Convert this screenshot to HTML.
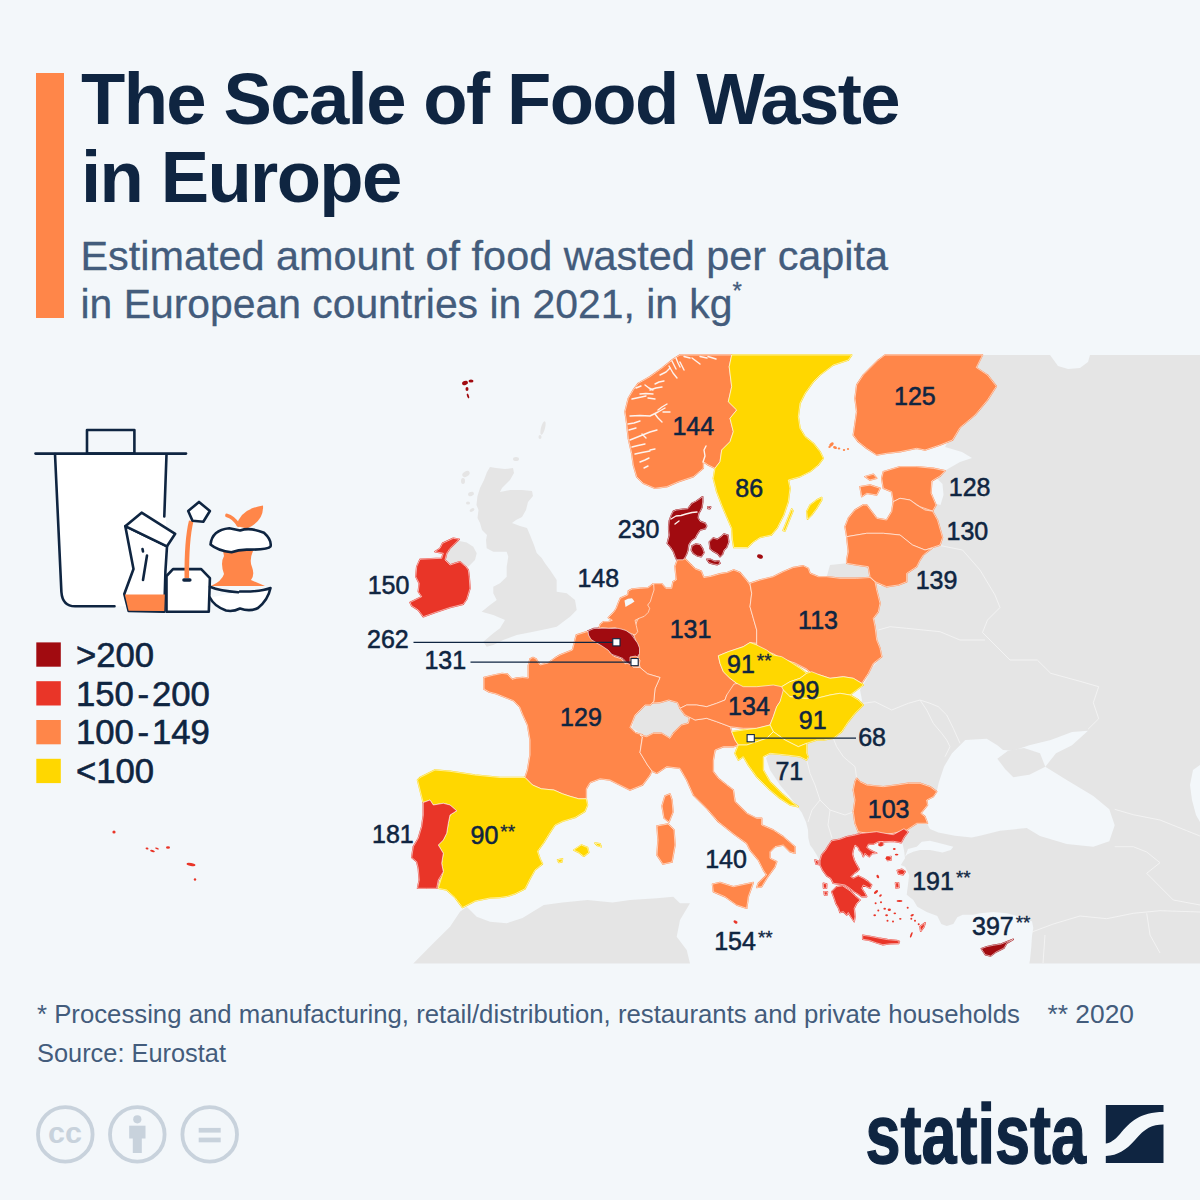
<!DOCTYPE html>
<html><head><meta charset="utf-8"><title>The Scale of Food Waste in Europe</title>
<style>
html,body{margin:0;padding:0;background:#f3f7fa;}
body{width:1200px;height:1200px;overflow:hidden;position:relative;font-family:"Liberation Sans",sans-serif;}
svg{position:absolute;left:0;top:0;display:block;}
svg text{font-family:"Liberation Sans",sans-serif;}
</style></head>
<body>
<svg width="1200" height="1200" viewBox="0 0 1200 1200">
<rect width="1200" height="1200" fill="#f3f7fa"/>
<rect x="36" y="73" width="28" height="245" fill="#ff8649"/>
<text x="81" y="124" font-size="72.5" fill="#0f2541" font-weight="bold" letter-spacing="-1.63">The Scale of Food Waste</text>
<text x="81" y="202" font-size="72.5" fill="#0f2541" font-weight="bold" letter-spacing="-1.63">in Europe</text>
<text x="80.5" y="270" font-size="41.4" fill="#435c7c" font-weight="normal" stroke="#435c7c" stroke-width="0.3">Estimated amount of food wasted per capita</text>
<text x="80.5" y="317.5" font-size="41.4" fill="#435c7c" font-weight="normal" stroke="#435c7c" stroke-width="0.3"><tspan textLength="652" lengthAdjust="spacingAndGlyphs">in European countries in 2021, in kg</tspan><tspan dy="-19" font-size="24">*</tspan></text>
<g id="map">
<g fill="#e5e5e5">
<path d="M975.0,355.0 L1200.0,355.0 L1200.0,963.5 L1029.3,963.5 L1030.0,960.0 L1031.3,946.7 L1032.0,936.0 L1033.3,928.0 L1032.0,921.3 L1026.7,920.0 L1017.3,916.0 L1006.7,913.3 L993.3,912.0 L980.0,913.3 L973.3,914.7 L962.7,914.7 L957.3,917.3 L953.3,924.0 L946.7,926.0 L941.3,924.0 L937.3,916.0 L926.7,912.0 L917.3,906.7 L913.3,900.0 L906.7,894.7 L909.2,875.0 L905.0,866.7 L900.8,865.0 L905.0,858.3 L904.0,850.0 L902.5,843.3 L904.2,837.5 L908.3,833.3 L908.3,829.5 L893.3,835.5 L886.7,834.3 L877.3,832.0 L866.7,833.2 L853.3,834.5 L840.0,838.5 L830.7,842.5 L824.0,854.0 L820.0,861.3 L816.7,855.0 L813.0,849.0 L810.0,845.0 L808.3,838.0 L808.0,830.0 L806.0,822.0 L802.0,813.0 L797.0,806.0 L790.0,797.0 L780.0,785.0 L770.0,770.0 L766.0,758.0 L775.0,748.0 L790.0,746.0 L800.0,747.0 L810.0,742.0 L825.0,738.0 L840.0,732.0 L850.0,718.0 L860.0,706.0 L862.0,700.0 L860.0,690.0 L866.0,680.0 L872.0,668.0 L880.0,658.0 L880.0,648.0 L876.0,635.0 L874.0,620.0 L879.0,608.0 L878.0,595.0 L874.0,582.0 L880.0,586.0 L900.0,584.0 L905.0,575.0 L915.0,565.0 L925.0,553.0 L938.0,546.0 L940.0,535.0 L936.0,520.0 L932.0,512.0 L935.0,505.0 L930.0,495.0 L930.0,482.0 L940.0,476.0 L946.0,470.0 L960.0,462.0 L972.0,458.0 L962.0,452.0 L945.0,447.0 L950.0,438.0 L958.0,425.0 L972.0,410.0 L985.0,395.0 L985.0,378.0 L975.0,368.0Z"/>
<path d="M490.0,467.0 L496.0,468.0 L505.0,469.0 L513.0,468.0 L514.0,473.0 L510.0,480.0 L502.0,488.0 L500.0,492.0 L510.0,490.0 L522.0,490.0 L532.0,491.0 L533.0,496.0 L528.0,502.0 L526.0,510.0 L522.0,517.0 L516.0,520.0 L512.0,523.0 L520.0,526.0 L527.0,528.0 L530.0,535.0 L534.0,545.0 L536.7,553.0 L541.7,558.0 L545.0,563.3 L550.0,570.0 L556.7,580.0 L556.7,591.7 L566.7,593.3 L575.0,600.0 L576.7,610.0 L570.0,616.7 L563.3,621.7 L556.7,626.7 L550.0,628.3 L533.3,631.7 L516.7,635.0 L503.3,640.0 L493.3,645.0 L486.7,646.7 L483.3,641.7 L493.3,633.3 L500.0,628.3 L505.0,620.0 L493.3,615.0 L481.7,611.7 L490.0,605.0 L496.7,600.0 L493.3,593.3 L493.3,586.7 L500.0,583.3 L506.7,576.7 L506.7,566.7 L508.3,556.7 L506.7,551.7 L493.3,551.7 L486.7,548.3 L486.0,540.0 L487.0,535.0 L482.0,530.0 L480.0,523.0 L477.5,518.0 L478.5,510.0 L476.5,505.0 L477.5,496.0 L480.0,488.0 L484.0,480.0 L487.0,472.0Z"/>
<path d="M450.0,548.3 L458.3,540.8 L466.7,542.5 L473.3,546.7 L476.7,553.3 L475.0,560.0 L468.3,566.7 L460.0,561.7 L450.0,565.0 L445.0,560.0Z"/>
<path d="M413.3,963.5 L433.3,943.3 L450.0,926.7 L460.0,911.7 L466.7,906.7 L476.7,916.7 L490.0,921.7 L506.7,923.3 L522.5,918.0 L543.8,905.0 L562.5,902.5 L587.5,900.0 L612.5,902.5 L630.0,900.0 L656.7,898.3 L673.3,896.7 L680.0,903.3 L690.0,903.3 L680.0,920.0 L676.7,936.7 L686.7,950.0 L690.0,963.5Z"/>
<path d="M632.0,728.0 L635.0,715.0 L640.0,706.7 L650.0,703.3 L660.0,702.5 L668.8,700.0 L677.5,702.5 L685.0,707.0 L690.0,716.7 L688.3,723.3 L681.7,725.0 L673.3,733.3 L670.0,738.3 L661.7,733.3 L653.3,733.3 L646.7,736.7 L640.0,733.3Z"/>
<path d="M826.7,576.7 L830.0,565.0 L846.7,563.3 L856.7,565.0 L868.3,566.7 L870.0,577.5 L856.7,578.3 L840.0,578.3Z"/>
<ellipse cx="466" cy="474" rx="4" ry="2.5" transform="rotate(-30 466 474)"/>
<ellipse cx="463" cy="481" rx="2" ry="3" transform="rotate(0 463 481)"/>
<ellipse cx="471" cy="494" rx="3" ry="2" transform="rotate(-20 471 494)"/>
<ellipse cx="468" cy="503" rx="2" ry="1.5" transform="rotate(0 468 503)"/>
<ellipse cx="472" cy="510" rx="2.5" ry="1.5" transform="rotate(-30 472 510)"/>
<ellipse cx="516" cy="459" rx="3" ry="2" transform="rotate(0 516 459)"/>
<ellipse cx="543" cy="428" rx="2" ry="7" transform="rotate(15 543 428)"/>
<ellipse cx="540" cy="437" rx="1.5" ry="2" transform="rotate(0 540 437)"/>
<ellipse cx="480" cy="505" rx="2" ry="2" transform="rotate(0 480 505)"/>
</g>
<g fill="#f3f7fa">
<path d="M938.7,782.7 L944.0,766.7 L952.0,753.3 L965.3,740.0 L986.7,738.7 L997.3,745.3 L1003.0,750.0 L1013.3,750.7 L1029.3,745.3 L1050.7,740.0 L1072.0,732.0 L1088.0,730.7 L1072.0,745.3 L1056.0,753.3 L1045.3,766.7 L1066.7,780.0 L1093.3,796.0 L1109.3,809.3 L1114.7,825.3 L1109.3,841.3 L1093.3,846.7 L1066.7,844.0 L1040.0,836.0 L1026.7,828.0 L1000.0,830.7 L980.0,835.8 L971.7,837.5 L955.0,835.8 L938.3,832.5 L930.0,829.0 L927.5,824.2 L925.0,816.7 L920.8,813.3 L927.5,805.0 L926.7,800.0 L933.3,796.7 L936.7,791.7Z"/>
<path d="M905.0,856.7 L907.5,854.2 L913.3,851.7 L920.0,850.0 L930.0,850.0 L942.5,852.5 L950.8,850.0 L953.3,846.7 L940.0,843.3 L930.0,840.8 L921.7,841.7 L916.7,846.7 L908.0,849.0Z"/>
<path d="M1050.0,355.0 L1090.0,355.0 L1088.0,362.0 L1080.0,368.0 L1068.0,369.0 L1058.0,366.0Z"/>
<path d="M1200.0,765.0 L1193.0,770.0 L1190.0,785.0 L1192.0,800.0 L1196.0,815.0 L1200.0,822.0Z"/>
<path d="M930.0,480.0 L937.0,478.5 L942.5,484.0 L943.5,495.0 L940.5,505.0 L935.0,503.5 L931.5,495.0Z"/>
</g>
<path d="M997.3,758.7 L1008.0,750.7 L1024.0,748.0 L1040.0,753.3 L1045.3,766.7 L1029.3,774.7 L1013.3,777.3 L1005.3,769.3Z" fill="#e5e5e5"/>
<g fill="none" stroke="#f4f4f4" stroke-width="0.9" stroke-linejoin="round">
<path d="M937.5,545.0 L962.5,550.0 L980.0,570.0 L995.0,595.0 L1000.0,607.5 L987.5,620.0 L982.5,632.5 L995.0,645.0 L1010.0,660.0 L1037.3,660.0 L1050.7,673.3 L1080.0,681.3 L1098.7,686.7 L1093.3,702.7 L1098.7,718.7 L1088.0,729.3"/>
<path d="M878.3,630.0 L890.0,626.7 L906.7,628.3 L923.3,630.0 L940.0,631.7 L960.0,640.0 L985.0,640.0"/>
<path d="M863.3,703.3 L875.0,701.7 L891.7,710.0 L908.3,703.3 L920.0,700.0 L930.0,703.3 L938.3,706.7 L946.7,715.0 L953.3,728.3 L960.0,743.3"/>
<path d="M920.0,700.0 L926.7,710.0 L933.3,723.3 L941.7,733.3 L946.7,740.0 L950.0,746.7 L945.0,756.7"/>
<path d="M833.3,738.3 L836.7,746.7 L843.3,756.7 L855.0,766.7 L856.7,778.3"/>
<path d="M806.7,760.0 L810.0,773.3 L815.0,785.0 L820.0,800.0 L830.0,810.0 L845.0,815.0 L853.0,812.0"/>
<path d="M820.0,800.0 L812.0,810.0 L808.0,822.0"/>
<path d="M830.0,810.0 L828.0,825.0 L832.0,838.0"/>
<path d="M1114.7,809.3 L1133.3,814.7 L1160.0,820.0 L1186.7,830.7 L1200.0,836.0"/>
<path d="M1114.7,846.7 L1133.3,846.7 L1146.7,852.0 L1160.0,862.7 L1146.7,873.3 L1160.0,886.7 L1173.3,900.0 L1200.0,905.0"/>
<path d="M1032.0,932.0 L1053.3,924.0 L1080.0,916.0 L1106.7,918.7 L1133.3,913.3 L1160.0,910.7 L1200.0,912.0"/>
<path d="M1146.7,913.3 L1150.0,935.0 L1160.0,953.0"/>
<path d="M1045.0,935.0 L1043.0,963.0"/>
</g>
<g stroke-width="1.5" stroke-linejoin="round">
<path d="M673.3,359.2 L680.0,355.0 L731.7,355.0 L729.2,366.7 L731.7,386.7 L728.3,401.7 L736.7,410.0 L730.0,418.3 L733.3,431.7 L730.0,441.7 L721.7,450.0 L720.0,461.7 L715.0,468.3 L708.3,465.0 L703.3,461.7 L703.3,468.3 L693.3,476.7 L678.3,481.7 L666.7,486.7 L655.0,488.3 L643.3,483.3 L636.7,476.7 L633.3,465.0 L631.7,453.3 L628.3,438.3 L626.7,423.3 L625.0,411.7 L628.3,398.3 L633.3,390.0 L638.3,383.3 L650.0,376.7 L661.7,368.3Z" fill="#ff8649" stroke="#ff8649"/>
<path d="M731.7,355.0 L851.7,355.0 L848.3,360.0 L833.3,365.0 L820.0,375.0 L813.3,381.7 L805.0,393.3 L800.0,403.3 L798.3,416.7 L800.0,428.3 L805.0,436.7 L813.3,443.3 L820.0,451.7 L823.3,458.3 L818.3,465.0 L810.0,471.7 L800.0,476.7 L788.3,480.0 L790.0,488.3 L788.3,501.7 L783.8,515.0 L777.5,527.5 L771.3,535.0 L760.0,537.5 L752.5,542.5 L747.5,547.5 L733.8,547.5 L732.5,540.0 L731.7,528.3 L726.7,516.7 L721.7,505.0 L716.7,491.7 L713.3,478.3 L715.0,468.3 L720.0,461.7 L721.7,450.0 L730.0,441.7 L733.3,431.7 L730.0,418.3 L736.7,410.0 L728.3,401.7 L731.7,386.7 L729.2,366.7Z" fill="#ffd700" stroke="#ffd700"/>
<path d="M821.7,497.5 L816.7,500.0 L810.0,505.0 L806.7,511.7 L807.5,519.2 L811.7,515.0 L816.7,508.3 L821.7,500.0Z" fill="#ffd700" stroke="#ffd700"/>
<path d="M791.7,509.0 L793.0,511.0 L785.0,531.0 L783.0,530.5Z" fill="#ffd700" stroke="#ffd700"/>
<path d="M885.0,355.0 L982.5,355.0 L976.3,367.5 L987.5,375.0 L996.3,386.3 L987.5,400.0 L975.0,415.0 L960.0,427.5 L952.5,440.0 L940.0,445.0 L925.0,450.0 L916.7,448.3 L900.0,451.7 L886.7,453.3 L876.7,455.0 L866.7,448.3 L858.3,441.7 L853.3,435.0 L855.0,423.3 L856.7,411.7 L855.0,398.3 L856.7,385.0 L863.3,375.0 L870.0,368.3 L878.3,360.0Z" fill="#ff8649" stroke="#ff8649"/>
<path d="M883.3,471.7 L900.0,466.7 L916.7,466.7 L933.3,468.3 L945.0,470.8 L940.0,476.0 L931.7,481.0 L931.0,493.3 L936.0,505.0 L932.5,511.0 L920.0,506.7 L910.0,500.0 L900.0,498.3 L893.3,501.7 L891.7,491.7 L883.3,488.3 L881.7,478.3Z" fill="#ff8649" stroke="#ff8649"/>
<path d="M860.0,486.7 L870.0,485.0 L880.0,488.3 L876.7,495.0 L866.7,493.3 L861.7,496.7Z" fill="#ff8649" stroke="#ff8649"/>
<path d="M865.0,476.7 L873.3,474.2 L876.7,478.3 L870.0,480.0Z" fill="#ff8649" stroke="#ff8649"/>
<path d="M863.3,505.0 L866.7,505.0 L876.7,518.3 L886.7,520.0 L891.7,511.7 L893.3,501.7 L900.0,498.3 L910.0,500.0 L916.7,505.0 L925.0,510.0 L932.5,511.2 L937.5,520.0 L942.5,537.5 L940.0,545.0 L925.0,550.0 L912.5,545.0 L900.0,535.0 L883.3,533.3 L866.7,533.3 L846.7,536.7 L845.0,526.7 L848.3,518.3 L855.0,510.0Z" fill="#ff8649" stroke="#ff8649"/>
<path d="M846.7,536.7 L866.7,533.3 L883.3,533.3 L900.0,535.0 L912.5,545.0 L925.0,550.0 L931.7,548.3 L923.3,555.0 L920.0,560.0 L916.7,566.7 L906.7,573.3 L906.7,581.7 L898.3,585.0 L886.7,586.7 L875.0,581.7 L870.0,576.7 L868.3,566.7 L856.7,565.0 L846.7,563.3 L846.7,560.0 L848.3,551.7Z" fill="#ff8649" stroke="#ff8649"/>
<path d="M653.7,583.7 L661.7,583.7 L665.7,588.3 L671.7,588.3 L673.0,581.7 L676.3,580.0 L675.0,566.3 L677.5,559.4 L685.0,558.8 L691.3,565.0 L695.0,568.8 L701.3,571.3 L703.8,577.5 L711.3,576.3 L720.0,573.8 L727.5,572.5 L733.8,570.0 L740.0,572.5 L746.3,580.0 L750.0,585.0 L751.7,593.3 L750.0,606.7 L753.3,618.3 L756.7,630.0 L756.7,643.3 L750.0,642.5 L743.3,646.7 L728.3,651.7 L718.3,655.8 L720.0,663.3 L723.3,671.7 L730.0,678.3 L736.7,683.3 L736.7,688.3 L726.7,695.0 L725.0,700.0 L716.7,703.3 L706.7,706.7 L696.7,705.0 L686.7,705.0 L680.0,708.3 L677.5,702.5 L668.8,700.0 L660.0,702.5 L652.5,703.0 L653.8,701.3 L655.0,688.8 L660.0,677.5 L647.5,673.8 L640.0,667.5 L638.8,660.0 L638.8,650.0 L633.8,635.0 L635.0,626.3 L637.5,620.0 L645.0,610.0 L647.5,605.0 L650.0,597.5 L652.3,590.0Z" fill="#ff8649" stroke="#ff8649"/>
<path d="M750.0,583.3 L760.0,580.0 L773.3,576.7 L783.3,571.7 L793.3,567.5 L803.3,565.8 L808.3,568.3 L810.0,573.3 L818.3,576.7 L826.7,576.7 L840.0,578.3 L856.7,578.3 L870.0,577.5 L875.0,581.7 L876.7,590.0 L880.0,603.3 L878.3,611.7 L873.3,618.3 L875.0,626.7 L876.7,640.0 L880.0,648.3 L881.7,656.7 L873.3,663.3 L868.3,673.3 L861.7,683.3 L853.3,678.3 L843.3,676.7 L830.0,678.3 L820.0,675.0 L811.7,673.5 L806.7,669.0 L795.0,663.0 L781.7,658.7 L773.3,653.7 L763.3,650.3 L756.7,645.3 L756.7,630.0 L753.3,618.3 L750.0,606.7 L751.7,593.3Z" fill="#ff8649" stroke="#ff8649"/>
<path d="M597.0,629.7 L599.0,627.7 L600.3,624.3 L603.7,621.7 L608.3,621.7 L612.3,620.3 L608.3,617.7 L611.0,615.0 L613.7,612.3 L616.3,608.3 L618.3,603.0 L620.3,598.3 L623.0,597.0 L627.7,595.0 L628.3,591.0 L632.3,589.0 L640.3,588.3 L648.3,587.7 L651.7,585.0 L653.7,583.7 L654.0,590.0 L652.3,595.0 L650.3,601.7 L647.7,605.0 L649.7,608.3 L648.3,612.3 L644.3,616.3 L639.0,618.3 L635.0,620.3 L636.3,625.7 L637.7,631.7 L635.0,635.0 L629.7,633.0 L625.7,631.0 L621.7,630.3 L615.0,627.7 L608.3,628.3 L601.7,627.7Z" fill="#ff8649" stroke="#ff8649"/>
<path d="M588.1,631.3 L588.8,635.0 L593.8,640.0 L601.3,643.8 L607.5,647.5 L610.0,652.5 L613.8,656.3 L621.3,658.8 L625.0,663.8 L630.0,662.5 L633.0,667.0 L640.0,667.5 L647.5,673.8 L660.0,677.5 L655.0,688.8 L653.8,701.3 L650.0,705.0 L645.0,705.0 L635.0,715.0 L630.0,727.5 L635.0,732.5 L642.5,735.0 L640.0,752.5 L647.5,765.0 L652.0,771.0 L650.0,775.0 L642.5,785.0 L630.0,790.0 L617.5,783.8 L610.0,780.0 L600.0,778.8 L590.0,782.5 L586.3,788.8 L586.3,798.8 L578.8,798.8 L570.0,796.3 L562.5,793.8 L553.8,790.0 L541.3,788.8 L532.5,785.0 L525.0,777.5 L527.5,770.0 L530.0,755.0 L530.0,740.0 L527.5,725.0 L522.5,714.0 L519.6,706.7 L516.7,703.8 L513.8,700.8 L505.0,697.3 L496.3,693.8 L489.3,692.0 L484.0,689.0 L484.0,677.5 L493.3,675.2 L502.0,673.4 L507.3,674.0 L512.0,679.3 L516.7,678.1 L522.5,677.5 L528.3,678.1 L528.3,665.8 L530.0,659.0 L533.0,657.5 L536.0,659.0 L540.0,665.0 L548.0,663.0 L555.0,658.0 L560.0,655.0 L572.5,650.0 L575.0,640.0 L576.3,635.0Z" fill="#ff8649" stroke="#ff8649"/>
<path d="M665.0,796.0 L670.0,794.0 L672.0,800.0 L673.0,812.0 L669.0,822.0 L664.0,818.0 L662.0,806.0Z" fill="#ff8649" stroke="#ff8649"/>
<path d="M640.0,735.0 L646.7,736.7 L653.3,733.3 L661.7,733.3 L670.0,738.3 L673.3,733.3 L681.7,725.0 L688.3,723.3 L690.0,716.7 L695.0,720.0 L706.7,718.3 L716.7,721.7 L730.0,726.7 L731.7,731.7 L735.0,740.0 L738.3,745.0 L733.3,746.7 L723.3,746.7 L715.0,750.0 L713.3,760.0 L713.3,771.7 L718.3,778.3 L726.7,785.0 L733.3,790.0 L735.0,801.7 L746.7,813.3 L756.7,818.3 L761.7,818.3 L761.7,825.0 L773.3,830.0 L783.3,836.7 L795.0,846.7 L795.0,853.3 L790.0,851.7 L783.3,845.0 L775.0,846.7 L770.0,851.7 L770.0,858.3 L776.7,861.7 L775.0,866.7 L766.7,878.3 L761.7,886.7 L756.7,887.5 L758.3,883.3 L766.7,875.0 L763.3,870.0 L758.3,860.0 L750.0,850.0 L746.7,843.3 L735.0,835.0 L718.3,821.7 L706.7,808.3 L693.3,795.0 L686.7,780.0 L680.0,768.3 L666.7,766.7 L656.7,773.3 L652.0,771.0 L647.5,765.0 L640.0,752.5 L642.5,737.0Z" fill="#ff8649" stroke="#ff8649"/>
<path d="M657.0,826.0 L668.0,824.0 L674.0,830.0 L675.0,845.0 L672.0,862.0 L663.0,864.0 L657.0,855.0 L658.0,840.0Z" fill="#ff8649" stroke="#ff8649"/>
<path d="M712.5,884.2 L720.0,882.5 L733.3,886.7 L753.3,882.5 L748.3,896.7 L746.7,908.3 L736.7,905.0 L725.0,896.7 L713.3,891.7Z" fill="#ff8649" stroke="#ff8649"/>
<path d="M726.7,695.0 L734.0,684.0 L743.3,682.5 L756.7,682.5 L773.3,681.0 L781.7,683.0 L786.0,688.0 L780.0,701.7 L776.7,706.7 L773.3,716.7 L770.0,725.0 L756.7,728.3 L743.3,728.3 L730.0,726.7 L716.7,721.7 L706.7,718.3 L695.0,720.0 L685.0,715.0 L680.0,708.3 L686.7,705.0 L696.7,705.0 L706.7,706.7 L716.7,703.3 L725.0,700.0Z" fill="#ff8649" stroke="#ff8649"/>
<path d="M856.7,778.3 L860.0,781.7 L866.7,785.0 L883.3,786.7 L896.7,785.0 L908.3,783.3 L920.0,783.3 L930.0,786.7 L936.7,791.7 L933.3,796.7 L926.7,800.0 L927.5,805.0 L920.8,813.3 L925.0,816.7 L927.5,823.3 L916.7,823.3 L906.7,830.0 L893.3,833.3 L876.7,835.0 L866.7,833.3 L858.3,831.7 L855.0,823.3 L853.3,811.7 L855.0,800.0 L853.3,790.0 L855.0,781.7Z" fill="#ff8649" stroke="#ff8649"/>
<path d="M718.3,655.8 L728.3,651.7 L743.3,646.7 L750.0,642.5 L756.7,645.0 L766.7,650.0 L773.3,655.0 L781.7,656.7 L790.0,661.7 L800.0,668.3 L806.7,673.3 L800.0,678.3 L790.0,681.7 L781.7,686.7 L773.3,685.0 L756.7,686.7 L743.3,686.7 L736.7,683.3 L730.0,678.3 L723.3,671.7 L720.0,663.3Z" fill="#ffd700" stroke="#ffd700"/>
<path d="M806.7,673.3 L811.7,671.7 L820.0,675.0 L830.0,678.3 L843.3,676.7 L853.3,678.3 L861.7,683.3 L863.3,685.0 L856.7,690.0 L850.0,695.0 L840.0,693.3 L830.0,695.0 L816.7,698.3 L803.3,698.3 L790.0,696.7 L783.3,690.0 L781.7,686.7 L790.0,681.7 L800.0,678.3Z" fill="#ffd700" stroke="#ffd700"/>
<path d="M783.3,690.0 L790.0,696.7 L803.3,698.3 L816.7,698.3 L830.0,695.0 L840.0,693.3 L850.0,695.0 L858.3,700.0 L863.3,705.0 L855.0,713.3 L848.3,721.7 L841.7,731.7 L833.3,738.3 L823.3,740.0 L816.7,740.0 L806.7,743.3 L798.3,746.7 L785.0,740.0 L773.3,731.7 L770.0,725.0 L773.3,716.7 L776.7,706.7 L780.0,701.7Z" fill="#ffd700" stroke="#ffd700"/>
<path d="M731.7,731.7 L743.3,730.0 L756.7,728.3 L770.0,725.0 L773.3,731.7 L766.7,738.3 L756.7,741.7 L746.7,745.0 L738.3,745.0 L735.0,740.0Z" fill="#ffd700" stroke="#ffd700"/>
<path d="M773.3,731.7 L785.0,740.0 L798.3,746.7 L806.7,743.3 L806.7,753.3 L808.3,756.7 L806.7,760.0 L800.0,756.7 L786.7,755.0 L770.0,753.3 L763.3,756.7 L763.3,770.0 L770.0,781.7 L781.7,793.3 L793.3,803.3 L798.3,806.7 L790.0,805.0 L780.0,798.3 L770.0,790.0 L756.7,776.7 L748.3,765.0 L743.3,756.7 L738.3,760.0 L735.0,753.3 L738.3,745.0 L746.7,745.0 L756.7,741.7 L766.7,738.3Z" fill="#ffd700" stroke="#ffd700"/>
<path d="M420.0,777.5 L435.0,770.0 L450.0,771.3 L475.0,775.0 L500.0,777.5 L525.0,777.5 L532.5,785.0 L541.3,788.8 L553.8,790.0 L562.5,793.8 L570.0,796.3 L578.8,798.8 L586.3,798.8 L587.5,805.0 L585.0,811.3 L575.0,817.5 L562.5,821.3 L555.0,825.0 L550.0,832.5 L543.8,842.5 L537.5,851.3 L540.0,858.8 L542.5,863.8 L535.0,870.0 L530.0,878.8 L525.0,888.8 L515.0,893.8 L507.5,896.3 L500.0,897.5 L490.0,898.0 L475.0,901.0 L462.5,907.5 L455.0,897.5 L450.0,893.0 L446.7,890.0 L438.3,888.3 L443.3,871.7 L441.7,863.3 L443.3,853.3 L438.3,845.0 L443.3,840.0 L446.7,833.3 L448.3,823.3 L450.0,815.0 L456.7,810.8 L450.0,805.0 L443.3,803.3 L433.3,805.0 L430.0,800.0 L423.3,802.5 L422.5,800.0 L420.0,790.0 L417.5,780.0Z" fill="#ffd700" stroke="#ffd700"/>
<path d="M573.8,850.0 L581.3,845.0 L587.5,847.5 L588.8,852.5 L583.8,856.3 L578.8,852.5Z" fill="#ffd700" stroke="#ffd700"/>
<path d="M595.0,843.1 L600.0,843.8 L601.3,846.9 L597.5,845.6Z" fill="#ffd700" stroke="#ffd700"/>
<path d="M557.5,860.0 L562.5,858.8 L561.9,861.9 L558.8,862.5Z" fill="#ffd700" stroke="#ffd700"/>
<path d="M423.3,802.5 L430.0,800.0 L433.3,805.0 L443.3,803.3 L450.0,805.0 L456.7,810.8 L450.0,815.0 L448.3,823.3 L446.7,833.3 L443.3,840.0 L438.3,845.0 L443.3,853.3 L441.7,863.3 L443.3,871.7 L438.3,880.0 L436.7,888.3 L426.7,888.3 L417.5,888.3 L419.2,880.0 L418.3,868.3 L416.7,861.7 L411.7,857.5 L413.3,846.7 L418.3,838.3 L421.7,826.7 L423.3,815.0Z" fill="#e93528" stroke="#e93528"/>
<path d="M459.2,539.2 L453.3,538.3 L442.5,543.3 L440.0,548.3 L435.0,551.7 L443.3,553.3 L441.7,558.3 L420.0,559.2 L416.7,566.7 L415.8,576.7 L419.2,583.3 L418.3,591.7 L421.7,596.7 L410.0,602.5 L411.7,605.8 L418.3,610.0 L423.3,616.7 L435.0,612.5 L450.0,607.5 L463.3,604.2 L466.7,599.2 L470.0,588.3 L469.2,576.7 L468.3,570.0 L465.8,566.7 L460.0,561.7 L455.0,563.3 L450.0,565.0 L445.0,560.0 L446.7,553.3 L450.0,548.3Z" fill="#e93528" stroke="#e93528"/>
<path d="M820.0,860.8 L821.7,855.0 L825.8,850.0 L828.3,845.8 L831.7,840.8 L840.0,839.2 L846.7,836.7 L855.0,835.0 L861.7,833.3 L869.2,832.5 L876.7,831.7 L885.0,833.3 L893.3,834.7 L904.0,828.7 L908.0,832.0 L904.0,837.3 L901.3,842.7 L893.3,841.3 L885.0,841.7 L878.3,841.7 L873.3,844.2 L868.3,844.2 L866.7,847.5 L870.0,850.0 L873.3,851.7 L876.7,853.3 L872.0,853.5 L869.2,856.7 L866.0,854.5 L865.0,853.3 L863.3,856.7 L861.7,852.5 L859.2,850.0 L858.3,847.5 L855.0,845.0 L853.3,850.0 L852.5,854.2 L854.2,860.0 L856.7,865.0 L859.2,869.2 L856.7,871.7 L854.2,873.3 L850.8,876.7 L853.3,878.3 L858.3,875.8 L863.3,878.3 L868.3,881.7 L871.7,885.0 L870.0,888.3 L866.7,886.7 L863.3,885.0 L861.7,888.3 L865.0,893.3 L866.7,896.7 L861.7,896.7 L858.3,894.2 L854.2,891.7 L850.0,888.3 L845.0,885.0 L840.0,884.2 L833.3,883.3 L830.8,878.3 L826.7,875.8 L822.5,870.0 L820.0,865.0Z" fill="#e93528" stroke="#e93528"/>
<path d="M831.7,891.7 L836.7,886.7 L842.5,885.8 L850.0,890.8 L855.0,895.8 L860.0,900.0 L856.7,903.3 L854.2,908.3 L855.0,916.7 L854.2,921.7 L850.8,916.7 L848.3,912.5 L846.7,915.0 L843.3,911.7 L840.0,912.5 L838.3,907.5 L835.8,903.3 L834.2,898.3Z" fill="#e93528" stroke="#e93528"/>
<path d="M815.0,860.0 L818.0,861.0 L818.5,864.5 L816.0,864.0Z" fill="#e93528" stroke="#e93528"/>
<path d="M823.3,883.3 L826.7,884.0 L826.5,888.3 L823.5,888.0Z" fill="#e93528" stroke="#e93528"/>
<path d="M824.0,891.7 L827.5,892.0 L827.0,895.0 L824.5,895.0Z" fill="#e93528" stroke="#e93528"/>
<path d="M862.7,935.3 L869.2,936.2 L878.3,938.0 L887.5,939.6 L896.7,940.4 L899.4,941.5 L898.5,943.6 L890.2,943.8 L882.9,944.7 L876.5,942.9 L869.2,940.3 L862.7,939.3Z" fill="#e93528" stroke="#e93528"/>
<path d="M920.0,926.7 L925.3,922.7 L924.0,926.7 L920.7,931.3Z" fill="#e93528" stroke="#e93528"/>
<path d="M897.3,870.5 L902.0,869.3 L905.3,871.5 L903.0,874.7 L898.5,874.0Z" fill="#e93528" stroke="#e93528"/>
<path d="M895.5,883.0 L898.5,882.7 L899.0,887.5 L896.0,888.0Z" fill="#e93528" stroke="#e93528"/>
<path d="M879.0,842.0 L883.0,841.5 L883.5,844.5 L879.5,845.0Z" fill="#e93528" stroke="#e93528"/>
<path d="M887.0,857.0 L891.0,856.5 L891.0,860.0 L887.5,860.5Z" fill="#e93528" stroke="#e93528"/>
<path d="M702.7,496.7 L700.0,498.7 L696.0,501.3 L692.0,503.3 L688.0,508.7 L682.7,509.3 L676.7,510.0 L673.3,511.3 L671.3,515.3 L669.3,520.7 L668.7,526.0 L668.7,530.0 L669.3,535.3 L667.3,543.3 L670.7,547.3 L673.3,551.3 L675.3,556.7 L676.7,559.8 L683.3,559.8 L685.3,556.7 L686.7,554.0 L688.0,550.0 L688.7,544.7 L691.3,540.7 L695.3,538.0 L697.3,534.0 L700.0,530.0 L705.3,528.7 L706.7,526.0 L705.3,523.3 L700.0,521.3 L698.0,518.0 L698.7,513.3 L700.0,511.3 L702.0,507.3 L702.7,502.0Z" fill="#a10b10" stroke="#a10b10"/>
<path d="M692.0,546.0 L696.0,544.0 L700.0,544.7 L702.7,548.7 L704.0,552.7 L701.3,556.7 L697.3,556.0 L693.3,553.3 L691.3,550.0Z" fill="#a10b10" stroke="#a10b10"/>
<path d="M709.3,542.0 L713.3,538.0 L717.3,539.3 L721.3,536.7 L724.0,534.0 L728.0,535.3 L728.7,542.0 L726.7,547.3 L724.0,550.0 L722.7,554.0 L720.0,556.7 L718.0,554.0 L713.3,551.3 L710.0,548.7Z" fill="#a10b10" stroke="#a10b10"/>
<path d="M706.7,559.3 L710.7,559.3 L714.7,561.3 L718.7,560.7 L720.0,563.3 L717.3,564.7 L713.3,564.0 L709.3,562.7Z" fill="#a10b10" stroke="#a10b10"/>
<path d="M708.0,506.7 L710.7,507.0 L710.0,508.7 L708.0,508.5Z" fill="#a10b10" stroke="#a10b10"/>
<path d="M588.0,631.0 L594.0,628.5 L600.0,628.3 L606.0,628.3 L612.0,628.5 L618.0,628.3 L622.0,629.3 L626.0,630.5 L631.0,634.0 L634.5,639.0 L637.5,643.0 L639.5,648.0 L639.5,653.5 L637.0,657.5 L634.5,661.5 L631.0,665.0 L627.0,663.0 L623.0,658.5 L618.0,656.5 L612.0,654.5 L608.0,650.0 L602.0,646.0 L596.0,642.5 L591.0,639.5 L588.5,635.0Z" fill="#a10b10" stroke="#a10b10"/>
<path d="M981.3,948.7 L986.7,946.7 L993.3,945.3 L1001.3,944.0 L1013.3,939.3 L1006.7,943.3 L1004.0,948.0 L996.0,952.0 L990.7,956.0 L985.3,954.7Z" fill="#a10b10" stroke="#a10b10"/>
<path d="M630.0,657.0 L636.0,656.0 L640.0,660.0 L639.0,667.0 L633.0,667.0 L630.0,662.0Z" fill="#ff8649" stroke="#ff8649"/>
</g>
<g stroke="#fff" stroke-width="0.7" stroke-opacity="0.85" stroke-linejoin="round">
<path d="M673.3,359.2 L680.0,355.0 L731.7,355.0 L729.2,366.7 L731.7,386.7 L728.3,401.7 L736.7,410.0 L730.0,418.3 L733.3,431.7 L730.0,441.7 L721.7,450.0 L720.0,461.7 L715.0,468.3 L708.3,465.0 L703.3,461.7 L703.3,468.3 L693.3,476.7 L678.3,481.7 L666.7,486.7 L655.0,488.3 L643.3,483.3 L636.7,476.7 L633.3,465.0 L631.7,453.3 L628.3,438.3 L626.7,423.3 L625.0,411.7 L628.3,398.3 L633.3,390.0 L638.3,383.3 L650.0,376.7 L661.7,368.3Z" fill="#ff8649"/>
<path d="M731.7,355.0 L851.7,355.0 L848.3,360.0 L833.3,365.0 L820.0,375.0 L813.3,381.7 L805.0,393.3 L800.0,403.3 L798.3,416.7 L800.0,428.3 L805.0,436.7 L813.3,443.3 L820.0,451.7 L823.3,458.3 L818.3,465.0 L810.0,471.7 L800.0,476.7 L788.3,480.0 L790.0,488.3 L788.3,501.7 L783.8,515.0 L777.5,527.5 L771.3,535.0 L760.0,537.5 L752.5,542.5 L747.5,547.5 L733.8,547.5 L732.5,540.0 L731.7,528.3 L726.7,516.7 L721.7,505.0 L716.7,491.7 L713.3,478.3 L715.0,468.3 L720.0,461.7 L721.7,450.0 L730.0,441.7 L733.3,431.7 L730.0,418.3 L736.7,410.0 L728.3,401.7 L731.7,386.7 L729.2,366.7Z" fill="#ffd700"/>
<path d="M821.7,497.5 L816.7,500.0 L810.0,505.0 L806.7,511.7 L807.5,519.2 L811.7,515.0 L816.7,508.3 L821.7,500.0Z" fill="#ffd700"/>
<path d="M791.7,509.0 L793.0,511.0 L785.0,531.0 L783.0,530.5Z" fill="#ffd700"/>
<path d="M885.0,355.0 L982.5,355.0 L976.3,367.5 L987.5,375.0 L996.3,386.3 L987.5,400.0 L975.0,415.0 L960.0,427.5 L952.5,440.0 L940.0,445.0 L925.0,450.0 L916.7,448.3 L900.0,451.7 L886.7,453.3 L876.7,455.0 L866.7,448.3 L858.3,441.7 L853.3,435.0 L855.0,423.3 L856.7,411.7 L855.0,398.3 L856.7,385.0 L863.3,375.0 L870.0,368.3 L878.3,360.0Z" fill="#ff8649"/>
<path d="M883.3,471.7 L900.0,466.7 L916.7,466.7 L933.3,468.3 L945.0,470.8 L940.0,476.0 L931.7,481.0 L931.0,493.3 L936.0,505.0 L932.5,511.0 L920.0,506.7 L910.0,500.0 L900.0,498.3 L893.3,501.7 L891.7,491.7 L883.3,488.3 L881.7,478.3Z" fill="#ff8649"/>
<path d="M860.0,486.7 L870.0,485.0 L880.0,488.3 L876.7,495.0 L866.7,493.3 L861.7,496.7Z" fill="#ff8649"/>
<path d="M865.0,476.7 L873.3,474.2 L876.7,478.3 L870.0,480.0Z" fill="#ff8649"/>
<path d="M863.3,505.0 L866.7,505.0 L876.7,518.3 L886.7,520.0 L891.7,511.7 L893.3,501.7 L900.0,498.3 L910.0,500.0 L916.7,505.0 L925.0,510.0 L932.5,511.2 L937.5,520.0 L942.5,537.5 L940.0,545.0 L925.0,550.0 L912.5,545.0 L900.0,535.0 L883.3,533.3 L866.7,533.3 L846.7,536.7 L845.0,526.7 L848.3,518.3 L855.0,510.0Z" fill="#ff8649"/>
<path d="M846.7,536.7 L866.7,533.3 L883.3,533.3 L900.0,535.0 L912.5,545.0 L925.0,550.0 L931.7,548.3 L923.3,555.0 L920.0,560.0 L916.7,566.7 L906.7,573.3 L906.7,581.7 L898.3,585.0 L886.7,586.7 L875.0,581.7 L870.0,576.7 L868.3,566.7 L856.7,565.0 L846.7,563.3 L846.7,560.0 L848.3,551.7Z" fill="#ff8649"/>
<path d="M653.7,583.7 L661.7,583.7 L665.7,588.3 L671.7,588.3 L673.0,581.7 L676.3,580.0 L675.0,566.3 L677.5,559.4 L685.0,558.8 L691.3,565.0 L695.0,568.8 L701.3,571.3 L703.8,577.5 L711.3,576.3 L720.0,573.8 L727.5,572.5 L733.8,570.0 L740.0,572.5 L746.3,580.0 L750.0,585.0 L751.7,593.3 L750.0,606.7 L753.3,618.3 L756.7,630.0 L756.7,643.3 L750.0,642.5 L743.3,646.7 L728.3,651.7 L718.3,655.8 L720.0,663.3 L723.3,671.7 L730.0,678.3 L736.7,683.3 L736.7,688.3 L726.7,695.0 L725.0,700.0 L716.7,703.3 L706.7,706.7 L696.7,705.0 L686.7,705.0 L680.0,708.3 L677.5,702.5 L668.8,700.0 L660.0,702.5 L652.5,703.0 L653.8,701.3 L655.0,688.8 L660.0,677.5 L647.5,673.8 L640.0,667.5 L638.8,660.0 L638.8,650.0 L633.8,635.0 L635.0,626.3 L637.5,620.0 L645.0,610.0 L647.5,605.0 L650.0,597.5 L652.3,590.0Z" fill="#ff8649"/>
<path d="M750.0,583.3 L760.0,580.0 L773.3,576.7 L783.3,571.7 L793.3,567.5 L803.3,565.8 L808.3,568.3 L810.0,573.3 L818.3,576.7 L826.7,576.7 L840.0,578.3 L856.7,578.3 L870.0,577.5 L875.0,581.7 L876.7,590.0 L880.0,603.3 L878.3,611.7 L873.3,618.3 L875.0,626.7 L876.7,640.0 L880.0,648.3 L881.7,656.7 L873.3,663.3 L868.3,673.3 L861.7,683.3 L853.3,678.3 L843.3,676.7 L830.0,678.3 L820.0,675.0 L811.7,673.5 L806.7,669.0 L795.0,663.0 L781.7,658.7 L773.3,653.7 L763.3,650.3 L756.7,645.3 L756.7,630.0 L753.3,618.3 L750.0,606.7 L751.7,593.3Z" fill="#ff8649"/>
<path d="M597.0,629.7 L599.0,627.7 L600.3,624.3 L603.7,621.7 L608.3,621.7 L612.3,620.3 L608.3,617.7 L611.0,615.0 L613.7,612.3 L616.3,608.3 L618.3,603.0 L620.3,598.3 L623.0,597.0 L627.7,595.0 L628.3,591.0 L632.3,589.0 L640.3,588.3 L648.3,587.7 L651.7,585.0 L653.7,583.7 L654.0,590.0 L652.3,595.0 L650.3,601.7 L647.7,605.0 L649.7,608.3 L648.3,612.3 L644.3,616.3 L639.0,618.3 L635.0,620.3 L636.3,625.7 L637.7,631.7 L635.0,635.0 L629.7,633.0 L625.7,631.0 L621.7,630.3 L615.0,627.7 L608.3,628.3 L601.7,627.7Z" fill="#ff8649"/>
<path d="M588.1,631.3 L588.8,635.0 L593.8,640.0 L601.3,643.8 L607.5,647.5 L610.0,652.5 L613.8,656.3 L621.3,658.8 L625.0,663.8 L630.0,662.5 L633.0,667.0 L640.0,667.5 L647.5,673.8 L660.0,677.5 L655.0,688.8 L653.8,701.3 L650.0,705.0 L645.0,705.0 L635.0,715.0 L630.0,727.5 L635.0,732.5 L642.5,735.0 L640.0,752.5 L647.5,765.0 L652.0,771.0 L650.0,775.0 L642.5,785.0 L630.0,790.0 L617.5,783.8 L610.0,780.0 L600.0,778.8 L590.0,782.5 L586.3,788.8 L586.3,798.8 L578.8,798.8 L570.0,796.3 L562.5,793.8 L553.8,790.0 L541.3,788.8 L532.5,785.0 L525.0,777.5 L527.5,770.0 L530.0,755.0 L530.0,740.0 L527.5,725.0 L522.5,714.0 L519.6,706.7 L516.7,703.8 L513.8,700.8 L505.0,697.3 L496.3,693.8 L489.3,692.0 L484.0,689.0 L484.0,677.5 L493.3,675.2 L502.0,673.4 L507.3,674.0 L512.0,679.3 L516.7,678.1 L522.5,677.5 L528.3,678.1 L528.3,665.8 L530.0,659.0 L533.0,657.5 L536.0,659.0 L540.0,665.0 L548.0,663.0 L555.0,658.0 L560.0,655.0 L572.5,650.0 L575.0,640.0 L576.3,635.0Z" fill="#ff8649"/>
<path d="M665.0,796.0 L670.0,794.0 L672.0,800.0 L673.0,812.0 L669.0,822.0 L664.0,818.0 L662.0,806.0Z" fill="#ff8649"/>
<path d="M640.0,735.0 L646.7,736.7 L653.3,733.3 L661.7,733.3 L670.0,738.3 L673.3,733.3 L681.7,725.0 L688.3,723.3 L690.0,716.7 L695.0,720.0 L706.7,718.3 L716.7,721.7 L730.0,726.7 L731.7,731.7 L735.0,740.0 L738.3,745.0 L733.3,746.7 L723.3,746.7 L715.0,750.0 L713.3,760.0 L713.3,771.7 L718.3,778.3 L726.7,785.0 L733.3,790.0 L735.0,801.7 L746.7,813.3 L756.7,818.3 L761.7,818.3 L761.7,825.0 L773.3,830.0 L783.3,836.7 L795.0,846.7 L795.0,853.3 L790.0,851.7 L783.3,845.0 L775.0,846.7 L770.0,851.7 L770.0,858.3 L776.7,861.7 L775.0,866.7 L766.7,878.3 L761.7,886.7 L756.7,887.5 L758.3,883.3 L766.7,875.0 L763.3,870.0 L758.3,860.0 L750.0,850.0 L746.7,843.3 L735.0,835.0 L718.3,821.7 L706.7,808.3 L693.3,795.0 L686.7,780.0 L680.0,768.3 L666.7,766.7 L656.7,773.3 L652.0,771.0 L647.5,765.0 L640.0,752.5 L642.5,737.0Z" fill="#ff8649"/>
<path d="M657.0,826.0 L668.0,824.0 L674.0,830.0 L675.0,845.0 L672.0,862.0 L663.0,864.0 L657.0,855.0 L658.0,840.0Z" fill="#ff8649"/>
<path d="M712.5,884.2 L720.0,882.5 L733.3,886.7 L753.3,882.5 L748.3,896.7 L746.7,908.3 L736.7,905.0 L725.0,896.7 L713.3,891.7Z" fill="#ff8649"/>
<path d="M726.7,695.0 L734.0,684.0 L743.3,682.5 L756.7,682.5 L773.3,681.0 L781.7,683.0 L786.0,688.0 L780.0,701.7 L776.7,706.7 L773.3,716.7 L770.0,725.0 L756.7,728.3 L743.3,728.3 L730.0,726.7 L716.7,721.7 L706.7,718.3 L695.0,720.0 L685.0,715.0 L680.0,708.3 L686.7,705.0 L696.7,705.0 L706.7,706.7 L716.7,703.3 L725.0,700.0Z" fill="#ff8649"/>
<path d="M856.7,778.3 L860.0,781.7 L866.7,785.0 L883.3,786.7 L896.7,785.0 L908.3,783.3 L920.0,783.3 L930.0,786.7 L936.7,791.7 L933.3,796.7 L926.7,800.0 L927.5,805.0 L920.8,813.3 L925.0,816.7 L927.5,823.3 L916.7,823.3 L906.7,830.0 L893.3,833.3 L876.7,835.0 L866.7,833.3 L858.3,831.7 L855.0,823.3 L853.3,811.7 L855.0,800.0 L853.3,790.0 L855.0,781.7Z" fill="#ff8649"/>
<path d="M718.3,655.8 L728.3,651.7 L743.3,646.7 L750.0,642.5 L756.7,645.0 L766.7,650.0 L773.3,655.0 L781.7,656.7 L790.0,661.7 L800.0,668.3 L806.7,673.3 L800.0,678.3 L790.0,681.7 L781.7,686.7 L773.3,685.0 L756.7,686.7 L743.3,686.7 L736.7,683.3 L730.0,678.3 L723.3,671.7 L720.0,663.3Z" fill="#ffd700"/>
<path d="M806.7,673.3 L811.7,671.7 L820.0,675.0 L830.0,678.3 L843.3,676.7 L853.3,678.3 L861.7,683.3 L863.3,685.0 L856.7,690.0 L850.0,695.0 L840.0,693.3 L830.0,695.0 L816.7,698.3 L803.3,698.3 L790.0,696.7 L783.3,690.0 L781.7,686.7 L790.0,681.7 L800.0,678.3Z" fill="#ffd700"/>
<path d="M783.3,690.0 L790.0,696.7 L803.3,698.3 L816.7,698.3 L830.0,695.0 L840.0,693.3 L850.0,695.0 L858.3,700.0 L863.3,705.0 L855.0,713.3 L848.3,721.7 L841.7,731.7 L833.3,738.3 L823.3,740.0 L816.7,740.0 L806.7,743.3 L798.3,746.7 L785.0,740.0 L773.3,731.7 L770.0,725.0 L773.3,716.7 L776.7,706.7 L780.0,701.7Z" fill="#ffd700"/>
<path d="M731.7,731.7 L743.3,730.0 L756.7,728.3 L770.0,725.0 L773.3,731.7 L766.7,738.3 L756.7,741.7 L746.7,745.0 L738.3,745.0 L735.0,740.0Z" fill="#ffd700"/>
<path d="M773.3,731.7 L785.0,740.0 L798.3,746.7 L806.7,743.3 L806.7,753.3 L808.3,756.7 L806.7,760.0 L800.0,756.7 L786.7,755.0 L770.0,753.3 L763.3,756.7 L763.3,770.0 L770.0,781.7 L781.7,793.3 L793.3,803.3 L798.3,806.7 L790.0,805.0 L780.0,798.3 L770.0,790.0 L756.7,776.7 L748.3,765.0 L743.3,756.7 L738.3,760.0 L735.0,753.3 L738.3,745.0 L746.7,745.0 L756.7,741.7 L766.7,738.3Z" fill="#ffd700"/>
<path d="M420.0,777.5 L435.0,770.0 L450.0,771.3 L475.0,775.0 L500.0,777.5 L525.0,777.5 L532.5,785.0 L541.3,788.8 L553.8,790.0 L562.5,793.8 L570.0,796.3 L578.8,798.8 L586.3,798.8 L587.5,805.0 L585.0,811.3 L575.0,817.5 L562.5,821.3 L555.0,825.0 L550.0,832.5 L543.8,842.5 L537.5,851.3 L540.0,858.8 L542.5,863.8 L535.0,870.0 L530.0,878.8 L525.0,888.8 L515.0,893.8 L507.5,896.3 L500.0,897.5 L490.0,898.0 L475.0,901.0 L462.5,907.5 L455.0,897.5 L450.0,893.0 L446.7,890.0 L438.3,888.3 L443.3,871.7 L441.7,863.3 L443.3,853.3 L438.3,845.0 L443.3,840.0 L446.7,833.3 L448.3,823.3 L450.0,815.0 L456.7,810.8 L450.0,805.0 L443.3,803.3 L433.3,805.0 L430.0,800.0 L423.3,802.5 L422.5,800.0 L420.0,790.0 L417.5,780.0Z" fill="#ffd700"/>
<path d="M573.8,850.0 L581.3,845.0 L587.5,847.5 L588.8,852.5 L583.8,856.3 L578.8,852.5Z" fill="#ffd700"/>
<path d="M595.0,843.1 L600.0,843.8 L601.3,846.9 L597.5,845.6Z" fill="#ffd700"/>
<path d="M557.5,860.0 L562.5,858.8 L561.9,861.9 L558.8,862.5Z" fill="#ffd700"/>
<path d="M423.3,802.5 L430.0,800.0 L433.3,805.0 L443.3,803.3 L450.0,805.0 L456.7,810.8 L450.0,815.0 L448.3,823.3 L446.7,833.3 L443.3,840.0 L438.3,845.0 L443.3,853.3 L441.7,863.3 L443.3,871.7 L438.3,880.0 L436.7,888.3 L426.7,888.3 L417.5,888.3 L419.2,880.0 L418.3,868.3 L416.7,861.7 L411.7,857.5 L413.3,846.7 L418.3,838.3 L421.7,826.7 L423.3,815.0Z" fill="#e93528"/>
<path d="M459.2,539.2 L453.3,538.3 L442.5,543.3 L440.0,548.3 L435.0,551.7 L443.3,553.3 L441.7,558.3 L420.0,559.2 L416.7,566.7 L415.8,576.7 L419.2,583.3 L418.3,591.7 L421.7,596.7 L410.0,602.5 L411.7,605.8 L418.3,610.0 L423.3,616.7 L435.0,612.5 L450.0,607.5 L463.3,604.2 L466.7,599.2 L470.0,588.3 L469.2,576.7 L468.3,570.0 L465.8,566.7 L460.0,561.7 L455.0,563.3 L450.0,565.0 L445.0,560.0 L446.7,553.3 L450.0,548.3Z" fill="#e93528"/>
<path d="M820.0,860.8 L821.7,855.0 L825.8,850.0 L828.3,845.8 L831.7,840.8 L840.0,839.2 L846.7,836.7 L855.0,835.0 L861.7,833.3 L869.2,832.5 L876.7,831.7 L885.0,833.3 L893.3,834.7 L904.0,828.7 L908.0,832.0 L904.0,837.3 L901.3,842.7 L893.3,841.3 L885.0,841.7 L878.3,841.7 L873.3,844.2 L868.3,844.2 L866.7,847.5 L870.0,850.0 L873.3,851.7 L876.7,853.3 L872.0,853.5 L869.2,856.7 L866.0,854.5 L865.0,853.3 L863.3,856.7 L861.7,852.5 L859.2,850.0 L858.3,847.5 L855.0,845.0 L853.3,850.0 L852.5,854.2 L854.2,860.0 L856.7,865.0 L859.2,869.2 L856.7,871.7 L854.2,873.3 L850.8,876.7 L853.3,878.3 L858.3,875.8 L863.3,878.3 L868.3,881.7 L871.7,885.0 L870.0,888.3 L866.7,886.7 L863.3,885.0 L861.7,888.3 L865.0,893.3 L866.7,896.7 L861.7,896.7 L858.3,894.2 L854.2,891.7 L850.0,888.3 L845.0,885.0 L840.0,884.2 L833.3,883.3 L830.8,878.3 L826.7,875.8 L822.5,870.0 L820.0,865.0Z" fill="#e93528"/>
<path d="M831.7,891.7 L836.7,886.7 L842.5,885.8 L850.0,890.8 L855.0,895.8 L860.0,900.0 L856.7,903.3 L854.2,908.3 L855.0,916.7 L854.2,921.7 L850.8,916.7 L848.3,912.5 L846.7,915.0 L843.3,911.7 L840.0,912.5 L838.3,907.5 L835.8,903.3 L834.2,898.3Z" fill="#e93528"/>
<path d="M815.0,860.0 L818.0,861.0 L818.5,864.5 L816.0,864.0Z" fill="#e93528"/>
<path d="M823.3,883.3 L826.7,884.0 L826.5,888.3 L823.5,888.0Z" fill="#e93528"/>
<path d="M824.0,891.7 L827.5,892.0 L827.0,895.0 L824.5,895.0Z" fill="#e93528"/>
<path d="M862.7,935.3 L869.2,936.2 L878.3,938.0 L887.5,939.6 L896.7,940.4 L899.4,941.5 L898.5,943.6 L890.2,943.8 L882.9,944.7 L876.5,942.9 L869.2,940.3 L862.7,939.3Z" fill="#e93528"/>
<path d="M920.0,926.7 L925.3,922.7 L924.0,926.7 L920.7,931.3Z" fill="#e93528"/>
<path d="M897.3,870.5 L902.0,869.3 L905.3,871.5 L903.0,874.7 L898.5,874.0Z" fill="#e93528"/>
<path d="M895.5,883.0 L898.5,882.7 L899.0,887.5 L896.0,888.0Z" fill="#e93528"/>
<path d="M879.0,842.0 L883.0,841.5 L883.5,844.5 L879.5,845.0Z" fill="#e93528"/>
<path d="M887.0,857.0 L891.0,856.5 L891.0,860.0 L887.5,860.5Z" fill="#e93528"/>
<path d="M702.7,496.7 L700.0,498.7 L696.0,501.3 L692.0,503.3 L688.0,508.7 L682.7,509.3 L676.7,510.0 L673.3,511.3 L671.3,515.3 L669.3,520.7 L668.7,526.0 L668.7,530.0 L669.3,535.3 L667.3,543.3 L670.7,547.3 L673.3,551.3 L675.3,556.7 L676.7,559.8 L683.3,559.8 L685.3,556.7 L686.7,554.0 L688.0,550.0 L688.7,544.7 L691.3,540.7 L695.3,538.0 L697.3,534.0 L700.0,530.0 L705.3,528.7 L706.7,526.0 L705.3,523.3 L700.0,521.3 L698.0,518.0 L698.7,513.3 L700.0,511.3 L702.0,507.3 L702.7,502.0Z" fill="#a10b10"/>
<path d="M692.0,546.0 L696.0,544.0 L700.0,544.7 L702.7,548.7 L704.0,552.7 L701.3,556.7 L697.3,556.0 L693.3,553.3 L691.3,550.0Z" fill="#a10b10"/>
<path d="M709.3,542.0 L713.3,538.0 L717.3,539.3 L721.3,536.7 L724.0,534.0 L728.0,535.3 L728.7,542.0 L726.7,547.3 L724.0,550.0 L722.7,554.0 L720.0,556.7 L718.0,554.0 L713.3,551.3 L710.0,548.7Z" fill="#a10b10"/>
<path d="M706.7,559.3 L710.7,559.3 L714.7,561.3 L718.7,560.7 L720.0,563.3 L717.3,564.7 L713.3,564.0 L709.3,562.7Z" fill="#a10b10"/>
<path d="M708.0,506.7 L710.7,507.0 L710.0,508.7 L708.0,508.5Z" fill="#a10b10"/>
<path d="M588.0,631.0 L594.0,628.5 L600.0,628.3 L606.0,628.3 L612.0,628.5 L618.0,628.3 L622.0,629.3 L626.0,630.5 L631.0,634.0 L634.5,639.0 L637.5,643.0 L639.5,648.0 L639.5,653.5 L637.0,657.5 L634.5,661.5 L631.0,665.0 L627.0,663.0 L623.0,658.5 L618.0,656.5 L612.0,654.5 L608.0,650.0 L602.0,646.0 L596.0,642.5 L591.0,639.5 L588.5,635.0Z" fill="#a10b10"/>
<path d="M981.3,948.7 L986.7,946.7 L993.3,945.3 L1001.3,944.0 L1013.3,939.3 L1006.7,943.3 L1004.0,948.0 L996.0,952.0 L990.7,956.0 L985.3,954.7Z" fill="#a10b10"/>
<path d="M630.0,657.0 L636.0,656.0 L640.0,660.0 L639.0,667.0 L633.0,667.0 L630.0,662.0Z" fill="#ff8649"/>
</g>
<path d="M624.5,600.5 L628.0,598.8 L632.0,598.2 L634.5,601.5 L631.5,603.5 L628.0,605.5 L625.5,607.0Z" fill="#f3f7fa"/>
<g fill="none" stroke="#fdf3ee" stroke-width="1.4" stroke-linecap="round" stroke-linejoin="round">
<path d="M672.0,361.0 L674.0,365.0 L676.0,369.0"/>
<path d="M676.0,358.0 L678.0,363.0 L680.0,367.0"/>
<path d="M680.0,362.0 L682.0,366.0 L684.0,370.0"/>
<path d="M684.0,356.5 L690.0,358.0"/>
<path d="M692.0,358.0 L696.0,361.0 L700.0,364.0"/>
<path d="M700.0,356.5 L707.0,358.0"/>
<path d="M708.0,356.5 L716.0,359.0"/>
<path d="M669.0,366.0 L673.0,373.0 L677.0,378.0"/>
<path d="M645.0,385.0 L649.0,388.0 L653.0,390.0"/>
<path d="M650.0,390.0 L656.0,388.0 L662.0,387.0"/>
<path d="M655.0,384.0 L659.0,382.0 L664.0,381.0"/>
<path d="M640.0,394.0 L646.0,393.5 L653.0,394.0"/>
<path d="M632.0,399.0 L639.0,397.5 L646.0,396.0"/>
<path d="M648.0,398.0 L655.0,399.0"/>
<path d="M636.0,388.0 L641.0,386.0"/>
<path d="M660.0,375.0 L666.0,372.0 L670.0,368.0"/>
<path d="M630.0,416.0 L640.0,415.5 L650.0,416.0 L658.0,412.0 L665.0,408.0"/>
<path d="M658.0,410.0 L662.0,407.0 L667.0,404.0"/>
<path d="M655.0,414.0 L658.0,418.0 L662.0,422.0"/>
<path d="M663.0,412.0 L670.0,412.0"/>
<path d="M628.0,424.0 L634.0,423.0 L640.0,421.0"/>
<path d="M629.0,430.0 L636.0,428.0"/>
<path d="M630.0,440.0 L640.0,436.0 L650.0,432.0 L657.0,430.0"/>
<path d="M642.0,434.0 L646.0,438.0"/>
<path d="M632.0,447.0 L638.0,445.5 L645.0,444.0"/>
<path d="M635.0,454.0 L642.0,452.5 L650.0,451.0"/>
<path d="M640.0,462.0 L645.0,460.0 L649.0,458.0"/>
<path d="M650.0,450.0 L655.0,449.0"/>
<path d="M644.0,468.0 L648.0,466.0"/>
<path d="M703.0,462.0 L705.0,456.0 L704.0,450.0 L706.0,446.0"/>
<path d="M671.0,519.0 L676.0,516.0 L681.0,515.5 L686.0,514.0 L692.0,512.5 L697.0,512.0"/>
<path d="M675.0,524.0 L679.0,521.0"/>
</g>
<g fill="#a10b10">
<ellipse cx="760" cy="556.5" rx="3" ry="2" transform="rotate(20 760 556.5)"/>
<ellipse cx="465" cy="383" rx="3" ry="2" transform="rotate(-20 465 383)"/>
<ellipse cx="471" cy="381" rx="2.5" ry="1.5" transform="rotate(0 471 381)"/>
<ellipse cx="467" cy="389" rx="1.5" ry="2" transform="rotate(0 467 389)"/>
<ellipse cx="468" cy="396" rx="1" ry="2.5" transform="rotate(-20 468 396)"/>
</g>
<g fill="#ff8649">
<ellipse cx="831.5" cy="444.5" rx="2.6" ry="1.6" transform="rotate(-40 831.5 444.5)"/>
<ellipse cx="835" cy="447.5" rx="2" ry="1.4" transform="rotate(20 835 447.5)"/>
<ellipse cx="829.5" cy="447" rx="1.2" ry="1" transform="rotate(0 829.5 447)"/>
<ellipse cx="839" cy="448.5" rx="1.3" ry="1" transform="rotate(0 839 448.5)"/>
<ellipse cx="844" cy="450" rx="1.2" ry="0.9" transform="rotate(0 844 450)"/>
<ellipse cx="848" cy="449" rx="1.1" ry="0.9" transform="rotate(0 848 449)"/>
</g>
<g fill="#e93528">
<ellipse cx="114" cy="832" rx="1.6" ry="1.6" transform="rotate(0 114 832)"/>
<ellipse cx="147" cy="848.5" rx="1.5" ry="1" transform="rotate(20 147 848.5)"/>
<ellipse cx="152.5" cy="851" rx="2.5" ry="1" transform="rotate(20 152.5 851)"/>
<ellipse cx="157" cy="848.5" rx="2" ry="0.8" transform="rotate(20 157 848.5)"/>
<ellipse cx="168" cy="847.5" rx="2" ry="1.2" transform="rotate(0 168 847.5)"/>
<ellipse cx="191" cy="864.5" rx="4.5" ry="1.5" transform="rotate(10 191 864.5)"/>
<ellipse cx="195" cy="879.5" rx="1.2" ry="1.2" transform="rotate(0 195 879.5)"/>
<ellipse cx="735.5" cy="922" rx="2.2" ry="1.3" transform="rotate(30 735.5 922)"/>
<ellipse cx="880.6" cy="845" rx="2.4" ry="1.4" transform="rotate(0 880.6 845)"/>
<ellipse cx="894.3" cy="849" rx="1.4" ry="0.9" transform="rotate(0 894.3 849)"/>
<ellipse cx="888" cy="858.3" rx="2.4" ry="1.8" transform="rotate(0 888 858.3)"/>
<ellipse cx="896.6" cy="854.6" rx="1.8" ry="0.9" transform="rotate(0 896.6 854.6)"/>
<ellipse cx="877.8" cy="876.6" rx="1.2" ry="1.8" transform="rotate(-30 877.8 876.6)"/>
<ellipse cx="876" cy="892" rx="2.5" ry="1.2" transform="rotate(-40 876 892)"/>
<ellipse cx="880.5" cy="895.5" rx="1.5" ry="1" transform="rotate(-40 880.5 895.5)"/>
<ellipse cx="899.5" cy="901" rx="3" ry="1" transform="rotate(0 899.5 901)"/>
<ellipse cx="884.7" cy="908.7" rx="1.3" ry="1" transform="rotate(0 884.7 908.7)"/>
<ellipse cx="889.3" cy="909.7" rx="1.6" ry="1.2" transform="rotate(0 889.3 909.7)"/>
<ellipse cx="874.7" cy="915.2" rx="1.3" ry="1" transform="rotate(0 874.7 915.2)"/>
<ellipse cx="886.6" cy="915.2" rx="1.4" ry="1" transform="rotate(0 886.6 915.2)"/>
<ellipse cx="894.8" cy="913.3" rx="1.3" ry="0.9" transform="rotate(0 894.8 913.3)"/>
<ellipse cx="875.6" cy="903.2" rx="1" ry="1" transform="rotate(0 875.6 903.2)"/>
<ellipse cx="881" cy="902.3" rx="1" ry="1" transform="rotate(0 881 902.3)"/>
<ellipse cx="878.3" cy="910.6" rx="1" ry="1" transform="rotate(0 878.3 910.6)"/>
<ellipse cx="900.3" cy="918.8" rx="1.2" ry="0.9" transform="rotate(0 900.3 918.8)"/>
<ellipse cx="893" cy="921.6" rx="1" ry="1" transform="rotate(0 893 921.6)"/>
<ellipse cx="887.5" cy="920.7" rx="1" ry="1" transform="rotate(0 887.5 920.7)"/>
<ellipse cx="907.7" cy="907.8" rx="1" ry="1" transform="rotate(0 907.7 907.8)"/>
<ellipse cx="912.2" cy="915.2" rx="1.8" ry="1" transform="rotate(-20 912.2 915.2)"/>
<ellipse cx="911.3" cy="918.8" rx="1" ry="1" transform="rotate(0 911.3 918.8)"/>
<ellipse cx="915" cy="920.7" rx="1" ry="1" transform="rotate(0 915 920.7)"/>
<ellipse cx="918.7" cy="924.3" rx="1" ry="1" transform="rotate(0 918.7 924.3)"/>
<ellipse cx="911.3" cy="934.8" rx="0.9" ry="3" transform="rotate(20 911.3 934.8)"/>
</g>
</g>
<g stroke="#0f2541" stroke-width="1.3"><line x1="413.5" y1="642.3" x2="614" y2="642.3"/><line x1="470.5" y1="662.1" x2="632" y2="662.1"/><line x1="754" y1="738.2" x2="856" y2="738.2"/></g>
<rect x="612.8" y="638.7" width="7.2" height="7.2" fill="#fff" stroke="#0f2541" stroke-width="1.1"/>
<rect x="631.0" y="658.5" width="7.2" height="7.2" fill="#fff" stroke="#0f2541" stroke-width="1.1"/>
<rect x="747.1" y="734.6" width="7.2" height="7.2" fill="#fff" stroke="#0f2541" stroke-width="1.1"/>
<text x="672.4" y="434.6" font-size="25" fill="#0f2541" font-weight="normal" stroke="#0f2541" stroke-width="0.55">144</text>
<text x="735.3" y="496.7" font-size="25" fill="#0f2541" font-weight="normal" stroke="#0f2541" stroke-width="0.55">86</text>
<text x="894.0" y="404.5" font-size="25" fill="#0f2541" font-weight="normal" stroke="#0f2541" stroke-width="0.55">125</text>
<text x="948.8" y="496" font-size="25" fill="#0f2541" font-weight="normal" stroke="#0f2541" stroke-width="0.55">128</text>
<text x="946.5" y="540.3" font-size="25" fill="#0f2541" font-weight="normal" stroke="#0f2541" stroke-width="0.55">130</text>
<text x="915.6999999999999" y="589.3" font-size="25" fill="#0f2541" font-weight="normal" stroke="#0f2541" stroke-width="0.55">139</text>
<text x="617.7" y="538.3" font-size="25" fill="#0f2541" font-weight="normal" stroke="#0f2541" stroke-width="0.55">230</text>
<text x="367.7" y="593.6" font-size="25" fill="#0f2541" font-weight="normal" stroke="#0f2541" stroke-width="0.55">150</text>
<text x="577.4" y="587.3" font-size="25" fill="#0f2541" font-weight="normal" stroke="#0f2541" stroke-width="0.55">148</text>
<text x="367.0" y="648" font-size="25" fill="#0f2541" font-weight="normal" stroke="#0f2541" stroke-width="0.55">262</text>
<text x="424.40000000000003" y="668.6" font-size="25" fill="#0f2541" font-weight="normal" stroke="#0f2541" stroke-width="0.55">131</text>
<text x="669.6999999999999" y="638.1" font-size="25" fill="#0f2541" font-weight="normal" stroke="#0f2541" stroke-width="0.55">131</text>
<text x="798.0999999999999" y="628.8" font-size="25" fill="#0f2541" font-weight="normal" stroke="#0f2541" stroke-width="0.55">113</text>
<text x="727.0" y="672.5" font-size="25" fill="#0f2541" font-weight="normal" stroke="#0f2541" stroke-width="0.55">91<tspan font-size="19" dy="-6" dx="2" stroke-width="0.3">**</tspan></text>
<text x="791.5" y="699.4" font-size="25" fill="#0f2541" font-weight="normal" stroke="#0f2541" stroke-width="0.55">99</text>
<text x="728.0999999999999" y="714.8" font-size="25" fill="#0f2541" font-weight="normal" stroke="#0f2541" stroke-width="0.55">134</text>
<text x="798.8" y="728.5" font-size="25" fill="#0f2541" font-weight="normal" stroke="#0f2541" stroke-width="0.55">91</text>
<text x="858.2" y="745.5" font-size="25" fill="#0f2541" font-weight="normal" stroke="#0f2541" stroke-width="0.55">68</text>
<text x="775.4" y="779.6" font-size="25" fill="#0f2541" font-weight="normal" stroke="#0f2541" stroke-width="0.55">71</text>
<text x="560.0999999999999" y="726.2" font-size="25" fill="#0f2541" font-weight="normal" stroke="#0f2541" stroke-width="0.55">129</text>
<text x="372.0" y="842.5" font-size="25" fill="#0f2541" font-weight="normal" stroke="#0f2541" stroke-width="0.55">181</text>
<text x="470.5" y="844.2" font-size="25" fill="#0f2541" font-weight="normal" stroke="#0f2541" stroke-width="0.55">90<tspan font-size="19" dy="-6" dx="2" stroke-width="0.3">**</tspan></text>
<text x="705.1999999999999" y="867.9" font-size="25" fill="#0f2541" font-weight="normal" stroke="#0f2541" stroke-width="0.55">140</text>
<text x="867.8" y="817.5" font-size="25" fill="#0f2541" font-weight="normal" stroke="#0f2541" stroke-width="0.55">103</text>
<text x="912.1999999999999" y="889.5" font-size="25" fill="#0f2541" font-weight="normal" stroke="#0f2541" stroke-width="0.55">191<tspan font-size="19" dy="-6" dx="2" stroke-width="0.3">**</tspan></text>
<text x="714.1999999999999" y="949.5" font-size="25" fill="#0f2541" font-weight="normal" stroke="#0f2541" stroke-width="0.55">154<tspan font-size="19" dy="-6" dx="2" stroke-width="0.3">**</tspan></text>
<text x="972.0" y="934.5" font-size="25" fill="#0f2541" font-weight="normal" stroke="#0f2541" stroke-width="0.55">397<tspan font-size="19" dy="-6" dx="2" stroke-width="0.3">**</tspan></text>

<g stroke="#0f2541" stroke-width="2.6" fill="none" stroke-linecap="round" stroke-linejoin="round">
  <path d="M55,454 L61.4,592 Q62.5,606.3 75,606.3 L166,606.3 L166,454 Z" fill="#fff" stroke="none"/>
  <path d="M55,454 L61.4,592 Q62.5,606.3 75,606.3 L114.5,606.3"/>
  <path d="M166.5,454.5 L164.3,516.4"/>
  <rect x="87" y="430" width="47.4" height="23.6" fill="none"/>
  <path d="M35.5,453.6 L186,453.6"/>
  <!-- carton -->
  <path d="M125.3,526.2 L133.5,569 L124.3,594 L128.6,611 L164.3,611.8 L165.4,571.7 L167,546.3 Z" fill="#fff"/>
  <path d="M124.8,594.4 L164.8,594.4 L164.3,611 L128.6,610.7 Z" fill="#ff8649" stroke="none"/>
  <path d="M125.3,526.2 L141.6,512.7 L175.2,533.8 L167,546.3 Z" fill="#fff"/>
  <path d="M142.5,549 L143,551.5 M147,555.5 L143,580"/>
  <!-- tea bag -->
  <path d="M166.5,576 L173,569.1 L201.2,569.1 L209.9,578.2 L208.8,611.8 L166.5,611.8 Z" fill="#fff"/>
  <path d="M191.2,521 Q186.5,540 186.8,578" stroke="#ff8649" stroke-width="4.6" stroke-linecap="butt"/>
  <path d="M184,580 L189.8,580" stroke-width="3.6"/>
  <path d="M188.2,511 L199,501.9 L209.9,511 L203.3,521.8 L192.5,520.8 Z" fill="#fff"/>
  <!-- apple -->
  <path d="M227,515.5 Q233,517 238.5,525" stroke="#ff8649" stroke-width="3.8"/>
  <path d="M236.5,526 Q240,509 263,505.5 Q264,521 247,528.5 Z" fill="#ff8649" stroke="none"/>
  <path d="M223,551 L253,551 Q249,560 252,567 Q255,575 251,580 L265,586 L211,586 Q222,581 224,574 Q220,563 224,556 Z" fill="#ff8649" stroke="none"/>
  <path d="M210.5,544.6 Q212,530 229.3,528.3 Q236,529.5 240.2,530.5 Q250,527 264,532.7 Q272,540 270.5,546.5 Q268,550 246.7,549.6 Q238,550 231.5,552.2 Q218,551 210.5,544.6 Z" fill="#fff"/>
  <path d="M210,586.8 Q220,591 238,592.3 M240,591.5 Q260,592 270.5,588 Q268,600 258,608 Q250,612 240,608.5 Q233,612 226,610.5 Q214,606 210,597.7" fill="#fff"/>
</g>

<rect x="36.3" y="642.4" width="24.5" height="24.3" fill="#a10b10"/>
<text x="76" y="666.7" font-size="34.7" fill="#0f2541" font-weight="normal" stroke="#0f2541" stroke-width="0.6">&gt;200</text>
<rect x="36.3" y="681.2" width="24.5" height="24.3" fill="#e93528"/>
<text x="76" y="705.5" font-size="34.7" fill="#0f2541" font-weight="normal" stroke="#0f2541" stroke-width="0.6">150<tspan dx="3.5">-</tspan><tspan dx="3">200</tspan></text>
<rect x="36.3" y="720.0" width="24.5" height="24.3" fill="#ff8649"/>
<text x="76" y="744.3" font-size="34.7" fill="#0f2541" font-weight="normal" stroke="#0f2541" stroke-width="0.6">100<tspan dx="3.5">-</tspan><tspan dx="3">149</tspan></text>
<rect x="36.3" y="758.8" width="24.5" height="24.3" fill="#ffd700"/>
<text x="76" y="783.1" font-size="34.7" fill="#0f2541" font-weight="normal" stroke="#0f2541" stroke-width="0.6">&lt;100</text>
<text x="37" y="1023" font-size="25" fill="#435c7c" font-weight="normal" textLength="983" lengthAdjust="spacingAndGlyphs">* Processing and manufacturing, retail/distribution, restaurants and private households</text>
<text x="1047.5" y="1023" font-size="25" fill="#435c7c" font-weight="normal" textLength="86.5" lengthAdjust="spacingAndGlyphs">** 2020</text>
<text x="37" y="1062" font-size="25" fill="#435c7c" font-weight="normal" textLength="189" lengthAdjust="spacingAndGlyphs">Source: Eurostat</text>
<circle cx="65.3" cy="1134.4" r="27.3" fill="none" stroke="#c8d2dc" stroke-width="3.8"/>
<circle cx="137.3" cy="1134.4" r="27.3" fill="none" stroke="#c8d2dc" stroke-width="3.8"/>
<circle cx="209.7" cy="1134.4" r="27.3" fill="none" stroke="#c8d2dc" stroke-width="3.8"/>
<text x="48" y="1143" font-size="30" fill="#c8d2dc" font-weight="bold" textLength="34" lengthAdjust="spacingAndGlyphs">cc</text>
<circle cx="137.3" cy="1119.3" r="4.1" fill="#c8d2dc"/>
<rect x="129.2" y="1125.7" width="16.3" height="12.8" fill="#c8d2dc"/>
<rect x="132.8" y="1136" width="9" height="17" fill="#c8d2dc"/>
<rect x="198.7" y="1127.9" width="22" height="4.7" fill="#c8d2dc"/>
<rect x="198.7" y="1137.6" width="22" height="4.7" fill="#c8d2dc"/>
<text x="865.5" y="1162.5" font-size="83" fill="#0f2541" font-weight="bold" textLength="220.5" lengthAdjust="spacingAndGlyphs" stroke="#0f2541" stroke-width="1.4">statista</text>
<path d="M1105.8,1105.1 L1163.5,1105.1 L1163.5,1112 C1140,1112 1130,1122 1120,1134 C1115,1140 1110,1143 1105.8,1143.6 Z" fill="#0f2541"/>
<path d="M1105.8,1156 C1118,1155.5 1126,1150 1135,1140 C1145,1128 1152,1124.4 1163.5,1124.4 L1163.5,1162.9 L1105.8,1162.9 Z" fill="#0f2541"/>
</svg>
</body></html>
